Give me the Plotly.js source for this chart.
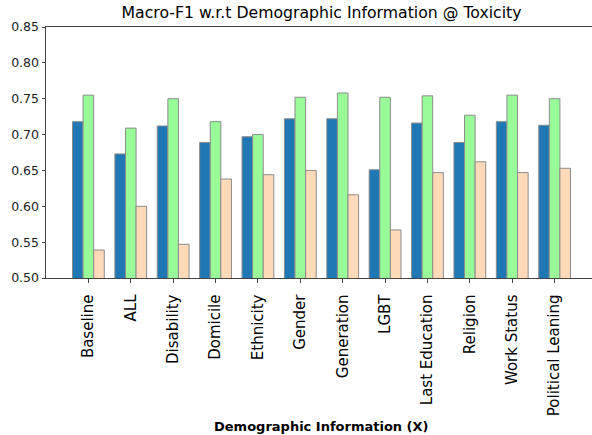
<!DOCTYPE html>
<html>
<head>
<meta charset="utf-8">
<script src="https://cdn.plot.ly/plotly-3.0.1.min.js"></script>
<style>
html, body { margin:0; padding:0; overflow:hidden; background:#fff; width:592px; height:435px; }
#chart { width:597px; height:435px; }
</style>
</head>
<body>
<div id="chart"></div>
<script>
var categories = ["Baseline", "ALL", "Disability", "Domicile", "Ethnicity", "Gender", "Generation", "LGBT", "Last Education", "Religion", "Work Status", "Political Leaning"];
var seriesBlue  = [0.718, 0.673, 0.712, 0.689, 0.697, 0.722, 0.722, 0.651, 0.716, 0.689, 0.718, 0.713];
var seriesGreen = [0.755, 0.709, 0.750, 0.718, 0.700, 0.752, 0.758, 0.752, 0.754, 0.727, 0.755, 0.750];
var seriesPeach = [0.539, 0.600, 0.547, 0.638, 0.644, 0.650, 0.616, 0.567, 0.647, 0.662, 0.647, 0.653];
var yTickVals = [0.50, 0.55, 0.60, 0.65, 0.70, 0.75, 0.80, 0.85];

var FONT = "DejaVu Sans, sans-serif";
var edge = {color: "#8c8c8c", width: 1};
function mk(vals, color, name) {
  return {type: "bar", x: categories, y: vals, name: name, width: 0.25,
          marker: {color: color, line: edge}, hoverinfo: "y"};
}
var data = [
  mk(seriesBlue, "#1f77b4", "A"),
  mk(seriesGreen, "#98fb98", "B"),
  mk(seriesPeach, "#ffdab9", "C")
];

var layout = {
  width: 597, height: 435,
  margin: {l: 46, r: 0, t: 27, b: 157, pad: 0},
  paper_bgcolor: "#fff", plot_bgcolor: "#fff",
  showlegend: false,
  barmode: "group", bargap: 0.25, bargroupgap: 0,
  font: {family: FONT, color: "#000"},
  title: {text: "Macro-F1 w.r.t Demographic Information @ Toxicity",
          x: 0.5, xref: "paper", xanchor: "center",
          y: 1 - 13/435, yref: "container", yanchor: "middle",
          font: {family: FONT, size: 15.7, color: "#000"}},
  xaxis: {type: "category", range: [-1, 12], showgrid: false, zeroline: false,
          showline: true, linecolor: "#444", linewidth: 1, mirror: true,
          ticks: "outside", ticklen: 3.5, tickwidth: 1, tickcolor: "#444",
          tickangle: -90, ticklabelstandoff: 6,
          tickfont: {family: FONT, size: 15, color: "#000"}},
  yaxis: {range: [0.5, 0.85], tickvals: yTickVals, tickformat: ".2f",
          showgrid: false, zeroline: false,
          showline: true, linecolor: "#444", linewidth: 1, mirror: true,
          ticks: "outside", ticklen: 3.5, tickwidth: 1, tickcolor: "#444",
          tickfont: {family: FONT, size: 12.5, color: "#222"}},
  annotations: [{text: "<b>Demographic Information (X)</b>", xref: "paper", yref: "paper",
                 x: 0.5, y: (278 - 426) / 251, xanchor: "center", yanchor: "middle",
                 showarrow: false, font: {family: FONT, size: 13, color: "#000"}}]
};

Plotly.newPlot("chart", data, layout, {displayModeBar: false, staticPlot: true});
</script>
</body>
</html>
